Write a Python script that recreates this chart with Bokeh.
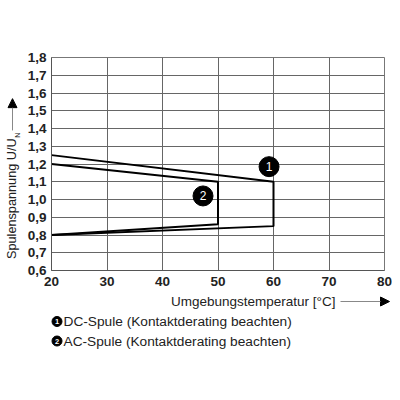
from bokeh.plotting import figure
from bokeh.models import FixedTicker, Arrow, NormalHead, Range1d
from bokeh.layouts import column, row
from bokeh.embed import file_html
from bokeh.resources import INLINE
from bokeh.core.properties import value

# data
x_ticks = [20, 30, 40, 50, 60, 70, 80]
y_ticks = [0.6, 0.7, 0.8, 0.9, 1.0, 1.1, 1.2, 1.3, 1.4, 1.5, 1.6, 1.7, 1.8]
y_tick_labels = ["0,6", "0,7", "0,8", "0,9", "1,0", "1,1", "1,2", "1,3", "1,4", "1,5", "1,6", "1,7", "1,8"]
dc_x = [20, 60, 60, 20]
dc_y = [1.25, 1.10, 0.85, 0.80]
ac_x = [20, 50, 50, 20]
ac_y = [1.20, 1.10, 0.86, 0.80]
marker_x = [59.2, 47.3]
marker_y = [1.185, 1.02]
marker_text = ["1", "2"]
legend_text = ["DC-Spule (Kontaktderating beachten)", "AC-Spule (Kontaktderating beachten)"]
x_title = "Umgebungstemperatur [°C]"
y_title = "Spulenspannung U/U"
y_title_sub = "N"

FONT = "Liberation Sans"
TXT = "#222222"
LW, PW, TH, BH = 24, 368, 295, 97
W = LW + PW


def blank(width, height, y0, y1):
    f = figure(width=width, height=height, output_backend="svg", toolbar_location=None,
               x_range=Range1d(0, width), y_range=Range1d(y1, y0),
               x_axis_location=None, y_axis_location=None,
               min_border=0, min_border_left=0, min_border_right=0,
               min_border_top=0, min_border_bottom=0)
    f.grid.visible = False
    f.outline_line_color = None
    f.background_fill_color = "white"
    f.border_fill_color = "white"
    return f


# ---- main chart
p = figure(width=PW, height=TH, output_backend="svg", toolbar_location=None,
           x_range=Range1d(20, 80), y_range=Range1d(0.6, 1.8),
           min_border_left=25, min_border_right=8, min_border_top=57, min_border_bottom=25)
p.background_fill_color = "white"
p.border_fill_color = "white"
p.outline_line_color = "#777777"
for ax in (p.xaxis[0], p.yaxis[0]):
    ax.major_tick_out = 0
    ax.major_tick_in = 0
    ax.minor_tick_out = 0
    ax.minor_tick_in = 0
    ax.axis_line_color = "#555555"
    ax.major_label_text_font = FONT
    ax.major_label_text_font_style = "bold"
    ax.major_label_text_font_size = "13.5px"
    ax.major_label_text_color = TXT
p.xaxis.ticker = FixedTicker(ticks=x_ticks)
p.yaxis.ticker = FixedTicker(ticks=y_ticks)
p.yaxis.major_label_overrides = {t: l for t, l in zip(y_ticks, y_tick_labels)}
p.xaxis.major_label_standoff = 6
p.yaxis.major_label_standoff = 5
p.grid.grid_line_color = "#666666"
p.grid.grid_line_width = 1
p.grid.grid_line_alpha = 1

p.line(dc_x, dc_y, line_color="black", line_width=2)
p.line(ac_x, ac_y, line_color="black", line_width=2)
p.scatter(marker_x, marker_y, size=20, fill_color="black", line_color="black")
p.text(marker_x, marker_y, text=marker_text, text_color="white", text_font=value(FONT),
       text_font_size="12px", text_align="center", text_baseline="middle")

# ---- left strip: y title with subscript and arrow (page pixel coordinates)
L = blank(LW, TH, 0, TH)
L.text([11.5], [112], text=[y_title], angle=1.5708, text_align="right", text_baseline="middle",
       text_font=value(FONT), text_font_size="12.7px", text_color=TXT)
L.text([16.5], [111], text=[y_title_sub], angle=1.5708, text_align="left", text_baseline="middle",
       text_font=value(FONT), text_font_size="7px", text_color=TXT)
L.add_layout(Arrow(x_start=12, y_start=101, x_end=12, y_end=57, line_width=1, line_color="#888888",
                   end=NormalHead(size=9, fill_color="black", line_color="black")))

# ---- bottom strip: x title with arrow, legend (page pixel coordinates)
B = blank(W, BH, TH, TH + BH)
B.text([335], [300.5], text=[x_title], text_align="right", text_baseline="middle",
       text_font=value(FONT), text_font_size="13.5px", text_color=TXT)
B.add_layout(Arrow(x_start=340, y_start=301, x_end=389, y_end=301, line_width=1, line_color="#888888",
                   end=NormalHead(size=9, fill_color="black", line_color="black")))
leg_y = [321, 340.5]
B.scatter([56.5, 56.5], leg_y, size=10, fill_color="black", line_color="black")
B.text([56.5, 56.5], [y + 0.3 for y in leg_y], text=marker_text, text_color="white", text_font=value(FONT),
       text_font_size="7.5px", text_font_style="bold", text_align="center", text_baseline="middle")
B.text([63, 63], leg_y, text=legend_text, text_align="left", text_baseline="middle",
       text_font=value(FONT), text_font_size="13.7px", text_color=TXT)

layout = column(row(L, p), B)
open("out.html", "w").write(file_html(layout, INLINE))
